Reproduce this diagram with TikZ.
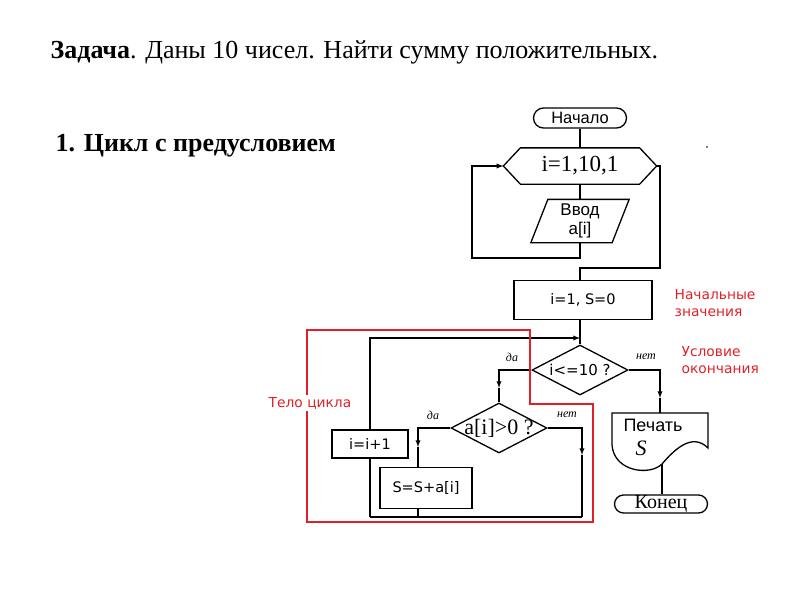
\documentclass[tikz,border=0pt]{standalone}
\usepackage{fontspec}
\setmainfont{Liberation Serif}
\setsansfont{Liberation Sans}
\newfontfamily\dejavu{DejaVu Sans}
\usetikzlibrary{shapes.geometric,shapes.misc}
\definecolor{redline}{RGB}{226,32,40}

\begin{document}
\begin{tikzpicture}[x=1pt,y=-1pt,line width=1.3pt,>=latex,
  blk/.style={draw,rectangle,inner sep=0pt},
  term/.style={draw,rounded rectangle,inner sep=0pt},
  cond/.style={draw,diamond,aspect=2,inner sep=-6pt,minimum width=96,minimum height=50},
  lab/.style={font=\itshape\fontsize{12}{12}\selectfont,inner sep=0pt},
  note/.style={text=redline,align=left,anchor=west,inner sep=0pt,font=\dejavu\fontsize{13.8}{17}\selectfont},
  vfont/.style={font=\dejavu\fontsize{14.5}{16}\selectfont}]
\useasboundingbox (0,0) rectangle (800,600);
\fill[white] (0,0) rectangle (800,600);

\node[anchor=west,inner sep=0pt,font=\fontsize{26}{30}\selectfont] (task) at (50,52) {\textbf{Задача}. Даны 10 чисел. Найти сумму положительных.};
\node[anchor=west,inner sep=0pt,font=\bfseries\fontsize{26}{30}\selectfont] (head) at (55,146) {1. Цикл с предусловием};
\fill (707,147) circle (0.8);

\node[term,minimum width=93,minimum height=20,font=\sffamily\fontsize{16.5}{18}\selectfont] (start) at (580,118) {Начало};
\node[inner sep=0pt,minimum width=152,minimum height=35,font=\fontsize{23}{25}\selectfont] (loop) at (580,166) {i=1,10,1};
\draw (loop.west) -- ([xshift=17]loop.north west) -- ([xshift=-17]loop.north east) -- (loop.east) -- ([xshift=-17]loop.south east) -- ([xshift=17]loop.south west) -- cycle;
\node[inner sep=0pt,minimum width=97,minimum height=42,align=center,font=\sffamily\fontsize{17}{19}\selectfont] (input) at (580,221) {Ввод\\a[i]};
\draw ([xshift=17]input.north west) -- (input.north east) -- ([xshift=-17]input.south east) -- (input.south west) -- cycle;
\node[blk,minimum width=138,minimum height=39,vfont] (init) at (583,300) {i=1, S=0};
\node[cond,font=\dejavu\fontsize{15}{16}\selectfont] (check) at (580,370) {i<=10 ?};
\node[cond,font=\fontsize{22}{24}\selectfont] (pos) at (499,428) {a[i]>0 ?};
\node[blk,minimum width=92,minimum height=41,vfont] (add) at (426,488) {S=S+a[i]};
\node[blk,minimum width=76,minimum height=28,vfont] (inc) at (370,444) {i=i+1};

\coordinate (dnw) at (612,413);
\coordinate (dne) at (708,413);
\coordinate (pw) at (662,464);
\draw (dnw) -- (612,445) .. controls (614,472) and (650,476) .. (pw) .. controls (674,450) and (692,432) .. (708,448) -- (dne) -- cycle;
\node[inner sep=0pt,font=\sffamily\fontsize{18}{20}\selectfont] (print) at (653,425) {Печать};
\node[inner sep=0pt,font=\itshape\fontsize{22}{24}\selectfont] (sum) at (641,448) {S};
\node[term,minimum width=93,minimum height=18,font=\fontsize{20}{22}\selectfont] (stop) at (661,504) {Конец};

\node[lab] (yes1) at (512,357) {да};
\node[lab] (no1) at (646,357) {нет};
\node[lab] (yes2) at (433,415) {да};
\node[lab] (no2) at (567,415) {нет};

\node[note] (initnote) at (674,303) {Начальные\\значения};
\node[note] (endnote) at (681,360) {Условие\\окончания};

\coordinate (lb) at (472,258);
\coordinate (rb) at (660,268);
\coordinate (top) at (580,338);
\coordinate (m1) at (499,388);
\coordinate (m2) at (418,447);
\coordinate (m3) at (582,455);
\coordinate (m4) at (660,398);
\coordinate (br) at (582,517);
\coordinate (bl) at (370,517);

\draw (start.south) -- (loop.north);
\draw (loop.south) -- (input.north);
\draw[->] (input.south) |- (lb) |- (loop.west);
\draw (loop.east) -| (rb) -| (check.north |- init.north);
\draw (check.north |- init.south) -- (check.north);
\draw[->] (inc.north) |- (top);
\draw[->] (check.west) -| (m1);
\draw (m1) -- (pos.north);
\draw[->] (pos.west) -| (m2);
\draw (m2) -- (m2 |- add.north);
\draw[->] (pos.east) -| (m3);
\draw[line width=2.4pt] (m3) -- (br);
\draw (bl) -- (br);
\draw (inc.south) -- (bl);
\draw (m2 |- add.south) -- (m2 |- br);
\draw[->] (check.east) -| (m4);
\draw (m4) -- (m4 |- dnw);
\draw (pw) -- (pw |- stop.north);

\draw[redline,line width=2pt] (307,330) -- (530,330) -- (530,404) -- (593,404) -- (593,522) -- (307,522) -- cycle;
\node[fill=white,text=redline,inner sep=2pt,font=\dejavu\fontsize{13.8}{15}\selectfont] (bodynote) at (310,403) {Тело цикла};
\end{tikzpicture}
\end{document}
